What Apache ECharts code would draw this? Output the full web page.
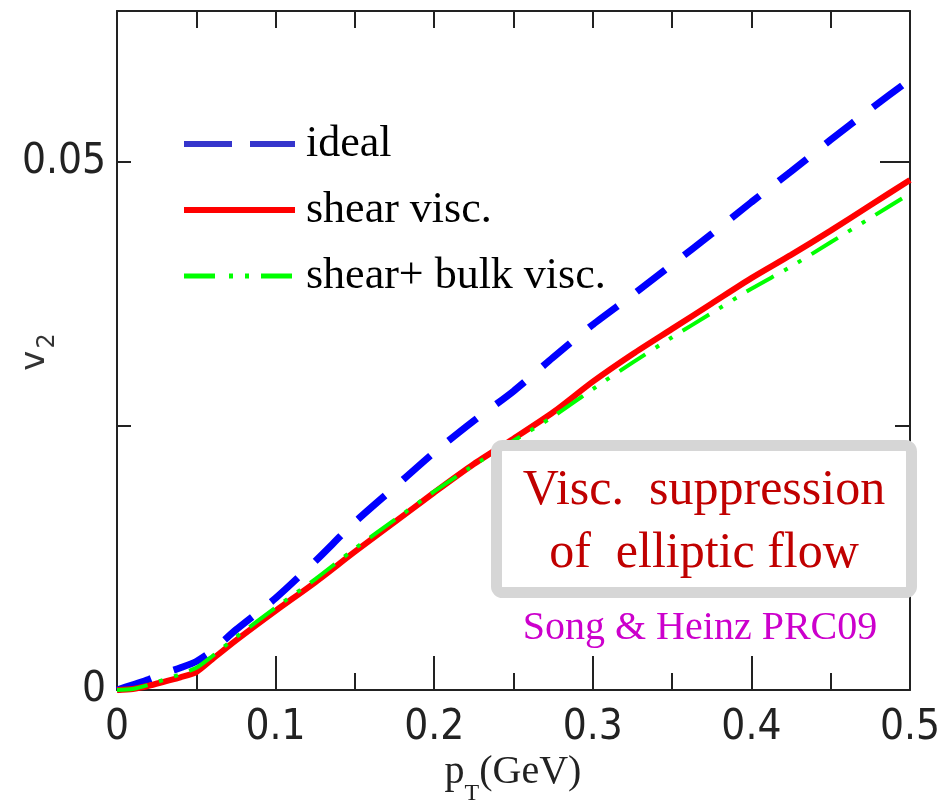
<!DOCTYPE html>
<html>
<head>
<meta charset="utf-8">
<script src="https://cdn.jsdelivr.net/npm/echarts@6/dist/echarts.min.js"></script>
<style>
html,body{margin:0;padding:0;background:#fff;}
#c{width:939px;height:805px;}
</style>
</head>
<body>
<div id="c"></div>
<script>
// p_T values (GeV)
const pT = [0, 0.01, 0.02, 0.03, 0.04, 0.05, 0.06, 0.075, 0.1, 0.125, 0.15, 0.175, 0.2,
            0.225, 0.25, 0.275, 0.3, 0.325, 0.35, 0.375, 0.4, 0.425, 0.45, 0.475, 0.5];
// v2 for each model
const ideal = [0, 0.0005, 0.0010, 0.0016, 0.0021, 0.0027, 0.0037, 0.0057, 0.0087, 0.0122, 0.0159, 0.0192, 0.0225,
               0.0255, 0.0283, 0.0315, 0.0346, 0.0374, 0.0403, 0.0432, 0.0462, 0.0491, 0.0521, 0.0550, 0.0578];
const shear = [0, 0.0001, 0.0004, 0.0008, 0.0012, 0.0017, 0.0029, 0.0047, 0.0075, 0.0102, 0.0131, 0.0159, 0.0187,
               0.0214, 0.0238, 0.0263, 0.0292, 0.0318, 0.0342, 0.0366, 0.0390, 0.0412, 0.0435, 0.0459, 0.0483];
const shearBulk = [0, 0.0001, 0.0005, 0.0010, 0.0015, 0.0021, 0.0032, 0.0050, 0.0078, 0.0105, 0.0134, 0.0161, 0.0188,
               0.0213, 0.0236, 0.0259, 0.0285, 0.0310, 0.0334, 0.0357, 0.0380, 0.0401, 0.0424, 0.0447, 0.0470];
const seriesNames = ['ideal', 'shear visc.', 'shear+ bulk visc.'];
const yLabels = {0: '0', 0.05: '0.05'};
const xLabels = ['0', '0.1', '0.2', '0.3', '0.4', '0.5'];

const pairs = ys => pT.map((x, i) => [x, ys[i]]);
const YMAX = 0.0643;
const tickFont = '"Liberation Sans Narrow", "DejaVu Sans Condensed", "Liberation Sans", sans-serif';
const serif = '"Liberation Serif", "DejaVu Serif", serif';
const frameLine = onZero => ({show: true, onZero: onZero, lineStyle: {color: '#222', width: 2}});
const tick = len => ({show: true, inside: true, length: len, lineStyle: {color: '#222', width: 2}});

const yLabelFmt = v => {
  for (const k in yLabels) if (Math.abs(v - Number(k)) < 1e-9) return yLabels[k];
  return '';
};
const xLabelFmt = v => {
  const i = Math.round(v * 10);
  return Math.abs(v * 10 - i) < 1e-9 ? xLabels[i] : '';
};
const hideSym = {color: 'rgba(0,0,0,0)', borderWidth: 0, opacity: 0};

const chart = echarts.init(document.getElementById('c'), null, {renderer: 'canvas'});
chart.setOption({
  animation: false,
  backgroundColor: '#fff',
  grid: {left: 117, right: 29, top: 11, bottom: 115, containLabel: false, outerBoundsMode: 'none'},
  legend: {
    orient: 'vertical',
    left: 176, top: 112,
    itemWidth: 111, itemHeight: 14, itemGap: 12,
    textStyle: {fontFamily: serif, fontSize: 44, color: '#000', lineHeight: 44, padding: [0, 0, 10, 6]},
    data: [
      {name: seriesNames[0], itemStyle: hideSym, lineStyle: {color: '#3535cc', width: 6, type: [48, 18]}},
      {name: seriesNames[1], itemStyle: hideSym, lineStyle: {color: '#ff0000', width: 6, type: 'solid'}},
      {name: seriesNames[2], itemStyle: hideSym, lineStyle: {color: '#00ff00', width: 5, type: [31, 14, 4, 12, 4, 12]}}
    ]
  },
  xAxis: [
    {
      type: 'value', min: 0, max: 0.5, interval: 0.1, position: 'bottom',
      axisLine: frameLine(true),
      axisTick: tick(34),
      minorTick: {show: true, splitNumber: 2, length: 17, lineStyle: {color: '#222', width: 2}},
      splitLine: {show: false}, minorSplitLine: {show: false},
      axisLabel: {formatter: xLabelFmt, fontFamily: tickFont, fontSize: 42, color: '#222', margin: 17}
    },
    {
      type: 'value', min: 0, max: 0.5, interval: 0.05, position: 'top',
      axisLine: frameLine(false),
      axisTick: tick(17),
      axisLabel: {show: false}, splitLine: {show: false}
    }
  ],
  yAxis: [
    {
      type: 'value', min: 0, max: YMAX, interval: 0.025, position: 'left',
      axisLine: frameLine(true),
      axisTick: tick(14),
      splitLine: {show: false},
      axisLabel: {formatter: yLabelFmt, fontFamily: tickFont, fontSize: 42, color: '#222', margin: 11}
    },
    {
      type: 'value', min: 0, max: YMAX, interval: 0.025, position: 'right',
      axisLine: frameLine(false),
      axisTick: tick(15),
      axisLabel: {show: false}, splitLine: {show: false}
    },
    {
      type: 'value', min: 0, max: YMAX, interval: 0.05, position: 'right',
      axisLine: {show: false, onZero: false},
      axisTick: tick(30),
      axisLabel: {show: false}, splitLine: {show: false}
    }
  ],
  series: [
    {
      name: seriesNames[0], type: 'line', data: pairs(ideal), symbol: 'none', z: 3, smooth: 0.25,
      lineStyle: {color: '#0000ff', width: 7, type: [36, 24], cap: 'butt'},
      itemStyle: {color: '#3535cc'}
    },
    {
      name: seriesNames[1], type: 'line', data: pairs(shear), symbol: 'none', z: 3, smooth: 0.25,
      lineStyle: {color: '#ff0000', width: 6},
      itemStyle: {color: '#ff0000'}
    },
    {
      name: seriesNames[2], type: 'line', data: pairs(shearBulk), symbol: 'none', z: 4, smooth: 0.25,
      lineStyle: {color: '#00ff00', width: 4, type: [31, 12, 4, 12, 4, 12]},
      itemStyle: {color: '#00ff00'}
    }
  ],
  graphic: [
    {
      type: 'text', z: 50, x: 513, y: 772,
      style: {
        text: '{p|p}{s|T}{p|(GeV)}', textAlign: 'center', textVerticalAlign: 'middle',
        rich: {
          p: {fontFamily: serif, fontSize: 40, fill: '#222', color: '#222'},
          s: {fontFamily: serif, fontSize: 24, fill: '#222', color: '#222', verticalAlign: 'bottom', padding: [0, 0, -14, 0]}
        }
      }
    },
    {
      type: 'text', z: 50, x: 35, y: 352, rotation: Math.PI / 2,
      style: {
        text: '{v|v}{s|2}', textAlign: 'center', textVerticalAlign: 'middle',
        rich: {
          v: {fontFamily: '"DejaVu Sans", sans-serif', fontSize: 34, fill: '#333', color: '#333'},
          s: {fontFamily: '"DejaVu Sans", sans-serif', fontSize: 24, fill: '#333', color: '#333', verticalAlign: 'bottom', padding: [0, 0, -8, 2]}
        }
      }
    },
    {
      type: 'rect', z: 100,
      shape: {x: 496.5, y: 445.5, width: 415, height: 147, r: 6},
      style: {fill: '#fff', stroke: '#d6d6d6', lineWidth: 11}
    },
    {
      type: 'text', z: 101, x: 704, y: 491,
      style: {text: 'Visc.  suppression', fontFamily: serif, fontSize: 50, fill: '#c00000',
              textAlign: 'center', textVerticalAlign: 'middle'}
    },
    {
      type: 'text', z: 101, x: 704, y: 554,
      style: {text: 'of  elliptic flow', fontFamily: serif, fontSize: 50, fill: '#c00000',
              textAlign: 'center', textVerticalAlign: 'middle'}
    },
    {
      type: 'text', z: 101, x: 700, y: 628,
      style: {text: 'Song & Heinz PRC09', fontFamily: serif, fontSize: 40, fill: '#cc00cc',
              textAlign: 'center', textVerticalAlign: 'middle'}
    }
  ]
});
</script>
</body>
</html>
